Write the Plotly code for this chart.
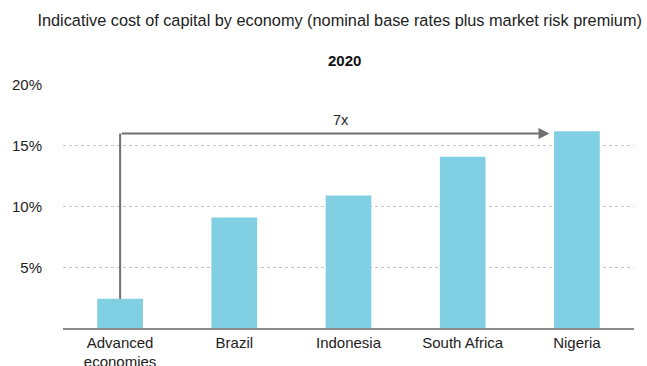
import plotly.graph_objects as go

categories = ["Advanced<br>economies", "Brazil", "Indonesia", "South Africa", "Nigeria"]
values = [2.4, 9.1, 10.9, 14.1, 16.2]
tick_vals = [5, 10, 15, 20]
tick_text = ["5%", "10%", "15%", "20%"]
title_text = "Indicative cost of capital by economy (nominal base rates plus market risk premium)"
subtitle_text = "2020"
arrow_label = "7x"
arrow_level = 16.0

FONT = "Liberation Sans, Arial, sans-serif"
BAR = "#80CFE2"
GREY = "#707070"

fig = go.Figure()
fig.add_trace(go.Bar(x=list(range(len(categories))), y=values, marker_color=BAR,
                     marker_line_width=0, width=0.4, hoverinfo="skip"))

# vertical part of arrow
fig.add_trace(go.Scatter(x=[0, 0], y=[values[0], arrow_level], mode="lines",
                         line=dict(color=GREY, width=2), hoverinfo="skip"))
# horizontal arrow
fig.add_annotation(x=3.76, y=arrow_level, ax=0, ay=arrow_level, xref="x", yref="y",
                   axref="x", ayref="y", showarrow=True, arrowhead=2, arrowsize=1.1,
                   arrowwidth=2, arrowcolor=GREY, text="")
fig.add_annotation(x=1.93, y=arrow_level, yshift=14, xref="x", yref="y", text=arrow_label,
                   showarrow=False, font=dict(family=FONT, size=14.5, color="#222"))

fig.update_layout(
    width=647, height=366,
    margin=dict(l=63, r=13, t=85, b=38, autoexpand=False),
    paper_bgcolor="white", plot_bgcolor="white",
    showlegend=False,
    font=dict(family=FONT, size=15, color="#222"),
    title=dict(text=title_text, x=0.525, xanchor="center", y=1 - 20 / 366, yanchor="middle",
               font=dict(family=FONT, size=16.3, color="#222")),
    xaxis=dict(range=[-0.5, 4.5], tickvals=list(range(len(categories))), ticktext=categories,
               showgrid=False, showline=True, linecolor="#8a8a8a", linewidth=1.5,
               ticks="", zeroline=False, automargin=False,
               tickfont=dict(size=15, color="#222")),
    yaxis=dict(range=[0, 20], tickvals=tick_vals, ticktext=tick_text, showgrid=True,
               gridcolor="#c4c4c4", griddash="dot", gridwidth=1, zeroline=False,
               showline=False, ticks="", ticklabelstandoff=20, automargin=False,
               tickfont=dict(size=15, color="#222")),
)
fig.add_annotation(xref="paper", yref="paper", x=(344 - 63) / 571, y=1.0, yshift=25,
                   yanchor="middle", text="<b>" + subtitle_text + "</b>",
                   showarrow=False, font=dict(family=FONT, size=15, color="#111"))

fig.write_html("out.html", config={"displayModeBar": False, "staticPlot": True})

# remove the default page margin so the figure sits at the window's top-left corner
with open("out.html", "r", encoding="utf-8") as f:
    html = f.read()
html = html.replace("<head>", "<head><style>html,body{margin:0;padding:0;overflow:hidden;}</style>", 1)
with open("out.html", "w", encoding="utf-8") as f:
    f.write(html)
